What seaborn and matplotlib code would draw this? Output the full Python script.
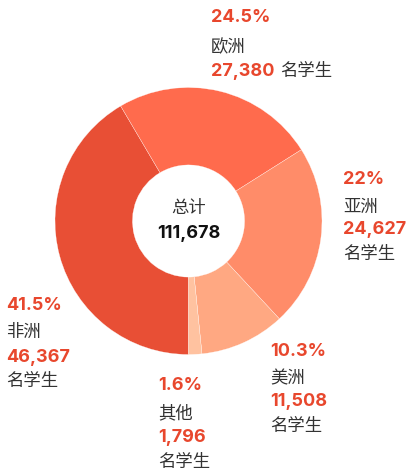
import matplotlib
matplotlib.use("Agg")
import matplotlib.pyplot as plt
import seaborn as sns

categories = ["非洲", "欧洲", "亚洲", "美洲", "其他"]
students = [46367, 27380, 24627, 11508, 1796]
pct_labels = ["41.5%", "24.5%", "22%", "10.3%", "1.6%"]
count_labels = ["46,367", "27,380", "24,627", "11,508", "1,796"]
total_label = "111,678"
colors = ["#E84F35", "#FF6B4D", "#FF8C69", "#FFA882", "#FFC2A0"]

sns.set_theme(style="white")
plt.rcParams["font.family"] = ["Noto Sans CJK SC", "DejaVu Sans"]

W, H = 407, 474
fig = plt.figure(figsize=(W / 100, H / 100), dpi=100)
fig.patch.set_facecolor("white")

cx, cy, r = 188.5, 221.0, 133.5
ax = fig.add_axes([(cx - r) / W, (H - cy - r) / H, 2 * r / W, 2 * r / H])
ax.pie(students, colors=colors, startangle=-90, counterclock=False, radius=1.0,
       wedgeprops=dict(width=0.58, edgecolor="white", linewidth=0.2))
ax.set_xlim(-1, 1)
ax.set_ylim(-1, 1)
ax.set_aspect("equal")
ax.axis("off")

RED = "#E8472D"
DARK = "#333333"
NUM_FONT = ["Inter", "DejaVu Sans"]
CJK = ["Noto Sans CJK SC", "DejaVu Sans"]
NUM_SIZE = 13
CJK_SIZE = 12.5


def t(x, y, s, **kw):
    return fig.text(x / W, 1 - y / H, s, va="center", **kw)


blocks = {
    "非洲": (6, 305, 332, 357, 381),
    "欧洲": (211, 18, 47, 71, None),
    "亚洲": (343, 180, 207, 229, 254),
    "美洲": (270, 352, 378, 402, 426),
    "其他": (158, 386, 413, 438, 462),
}

for cat, pct, cnt in zip(categories, pct_labels, count_labels):
    x, yp, yn, yc, yu = blocks[cat]
    t(x, yp, pct, color=RED, fontsize=NUM_SIZE, fontweight="bold", family=NUM_FONT, ha="left")
    t(x, yn, cat, color=DARK, fontsize=CJK_SIZE, fontweight="light", family=CJK, ha="left")
    txt = t(x, yc, cnt, color=RED, fontsize=NUM_SIZE, fontweight="bold", family=NUM_FONT, ha="left")
    if yu is None:
        fig.canvas.draw()
        bb = txt.get_window_extent()
        t(bb.x1 + 6, yc, "名学生", color=DARK, fontsize=CJK_SIZE, fontweight="light",
          family=CJK, ha="left")
    else:
        t(x, yu, "名学生", color=DARK, fontsize=CJK_SIZE, fontweight="light", family=CJK, ha="left")

t(cx, 208, "总计", color=DARK, fontsize=CJK_SIZE, fontweight="light", family=CJK, ha="center")
t(cx, 234, total_label, color="#111111", fontsize=NUM_SIZE, fontweight="bold", family=NUM_FONT, ha="center")

fig.savefig("out.png", dpi=100, facecolor="white")
